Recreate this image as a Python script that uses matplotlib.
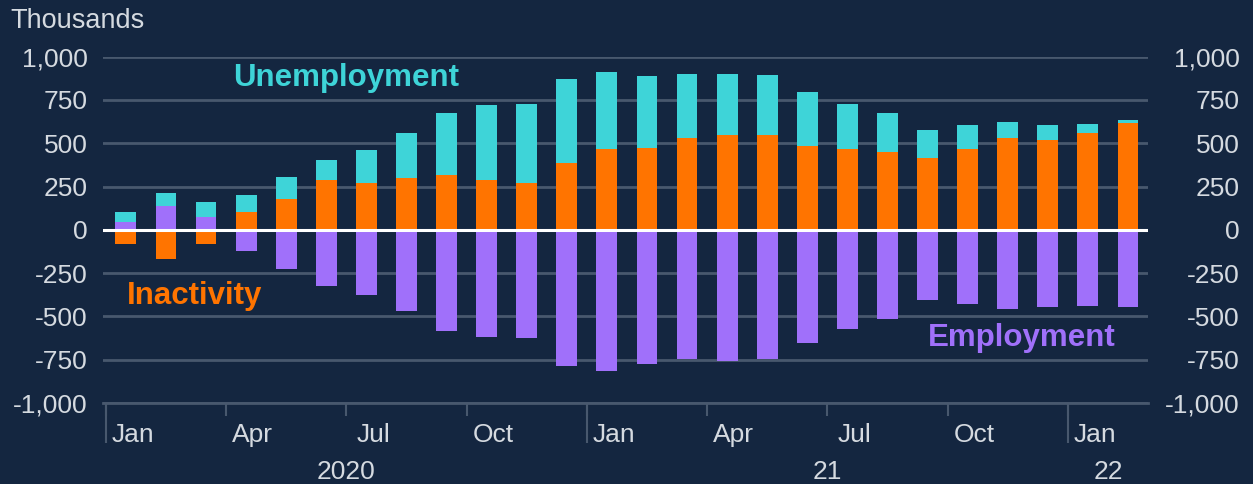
import matplotlib.pyplot as plt
import numpy as np
from matplotlib.ticker import FuncFormatter

# monthly changes vs pre-pandemic, thousands (Jan 2020 - Feb 2022)
employment = [48, 138, 77, -121, -227, -327, -375, -467, -583, -617, -625, -785,
              -818, -775, -748, -756, -748, -656, -573, -515, -406, -429, -458, -448,
              -439, -448]
inactivity = [-83, -166, -83, 104, 177, 287, 273, 298, 317, 289, 273, 387,
              469, 473, 533, 548, 546, 486, 466, 452, 417, 469, 529, 518,
              560, 619]
unemployment = [56, 77, 85, 96, 129, 117, 187, 260, 360, 432, 452, 483,
                444, 416, 365, 350, 347, 312, 261, 225, 160, 135, 96, 88,
                50, 14]

quarter_labels = ['Jan', 'Apr', 'Jul', 'Oct', 'Jan', 'Apr', 'Jul', 'Oct', 'Jan']
year_labels = ['2020', '21', '22']
y_ticks = [-1000, -750, -500, -250, 0, 250, 500, 750, 1000]

BG = '#142640'
GRID = '#48586e'
TXT = '#d5dae0'
PURPLE = '#a070fa'
ORANGE = '#ff7400'
CYAN = '#3ed4d8'
FS = 19

plt.rcParams['font.family'] = ['Liberation Sans', 'DejaVu Sans']
plt.rcParams['axes.unicode_minus'] = False

W, H = 1253, 484
fig = plt.figure(figsize=(W / 100, H / 100), dpi=100)
fig.patch.set_facecolor(BG)
ax = fig.add_axes([103 / W, 1 - 403 / H, (1148 - 103) / W, (403 - 56.7) / H])
ax.set_facecolor(BG)

x = np.arange(len(employment))
pos = np.zeros(len(x))
neg = np.zeros(len(x))
for vals, col in [(employment, PURPLE), (inactivity, ORANGE), (unemployment, CYAN)]:
    v = np.array(vals, dtype=float)
    bottom = np.where(v >= 0, pos, neg)
    ax.bar(x, v, 0.52, bottom=bottom, color=col, zorder=2)
    pos += np.clip(v, 0, None)
    neg += np.clip(v, None, 0)

ax.axhline(0, color='white', lw=2.2, zorder=3)

ax.set_xlim(-0.57, 25.5)
ax.set_ylim(-1000, 1000)
ax.set_yticks(y_ticks)
ax.yaxis.set_major_formatter(FuncFormatter(lambda v, p: f'{v:,.0f}'))
ax.yaxis.grid(True, color=GRID, lw=2)
ax.set_axisbelow(True)
ax.tick_params(axis='y', length=0, pad=11, labelsize=FS, labelcolor=TXT)

for s in ['top', 'left', 'right']:
    ax.spines[s].set_visible(False)
ax.spines['bottom'].set_color(GRID)
ax.spines['bottom'].set_linewidth(2)

# quarter ticks + month labels
ax.set_xticks(x[::3] - 0.5, labels=[''] * len(x[::3]))
ax.tick_params(axis='x', which='major', length=9.5, width=1.5, color=GRID, direction='out')
ax.set_xticks(x[::3] + 0.17, labels=quarter_labels, minor=True)
ax.tick_params(axis='x', which='minor', length=0, pad=14.5, labelsize=FS, labelcolor=TXT)

# longer ticks at year boundaries
sec = ax.secondary_xaxis('bottom')
sec.set_xticks([-0.5, 11.5, 23.5], labels=['', '', ''])
sec.tick_params(length=29, width=1.5, color=GRID)
sec.spines['bottom'].set_visible(False)

for lbl, xc in zip(year_labels, [5.5, 17.5, 24.5]):
    ax.text(xc, -0.2, lbl, transform=ax.get_xaxis_transform(), ha='center',
            va='center', fontsize=FS, color=TXT)

ax2 = ax.twinx()
ax2.set_ylim(ax.get_ylim())
ax2.set_yticks(y_ticks, labels=[f'{v:,}' for v in y_ticks])
ax2.tick_params(axis='y', length=0, pad=66, labelsize=FS, labelcolor=TXT)
plt.setp(ax2.get_yticklabels(), ha='right')
for s in ax2.spines.values():
    s.set_visible(False)

ax.text(5.49, 877, 'Unemployment', ha='center', va='center', fontsize=22.5,
        fontweight='bold', color=CYAN, zorder=4)
ax.text(1.72, -381, 'Inactivity', ha='center', va='center', fontsize=22.5,
        fontweight='bold', color=ORANGE, zorder=4)
ax.text(22.34, -623, 'Employment', ha='center', va='center', fontsize=22.5,
        fontweight='bold', color=PURPLE, zorder=4)

fig.text(10 / W, 1 - 21 / H, 'Thousands', ha='left', va='center', fontsize=19.5, color=TXT)

fig.savefig('out.png', dpi=100, facecolor=BG)
